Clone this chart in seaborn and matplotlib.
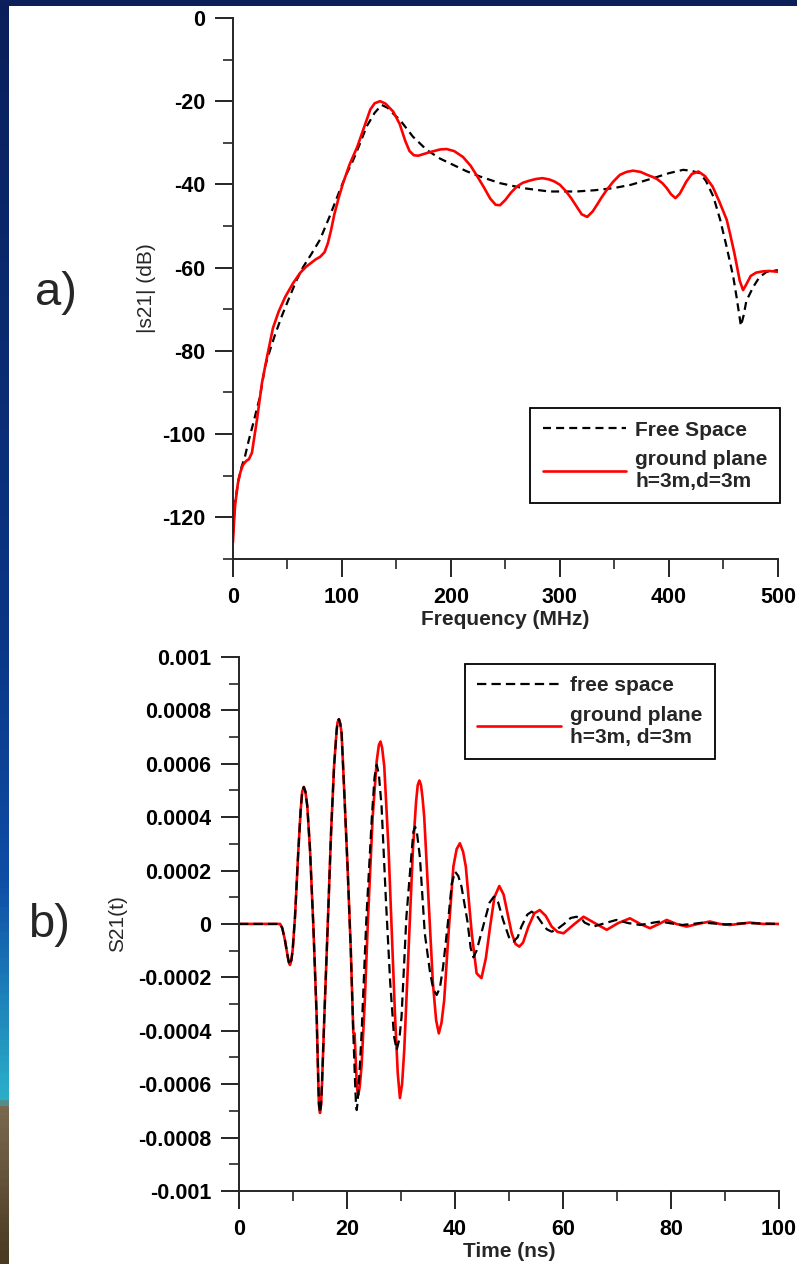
import numpy as np
import pandas as pd
import matplotlib
matplotlib.use('Agg')
import matplotlib.pyplot as plt
from matplotlib.colors import LinearSegmentedColormap
from matplotlib.ticker import MultipleLocator, FuncFormatter
import seaborn as sns

sns.set_theme(style='ticks')
plt.rcParams['font.family'] = ['Liberation Sans', 'DejaVu Sans']
plt.rcParams['axes.unicode_minus'] = False

# a) |s21| vs frequency
freq_free = [0, 1.8, 5, 8.0, 11, 14.5, 18.6, 24.8, 29.4, 34, 38.5, 45, 52, 58, 64.5, 72, 79.8, 89, 98.2,
             104, 110.4, 116.5, 122.6, 130, 136.4, 142, 147, 153.2, 165, 177.7, 190, 202, 214, 226.6,
             245, 266.3, 290, 315.3, 332, 349, 365, 385.6, 400, 413, 420, 428.4, 434, 440.7, 447,
             452.9, 459, 462, 466, 468.5, 471, 477.4, 483, 489.6, 500]
db_free = [-124, -116.6, -111, -107.8, -105.4, -101.5, -97.4, -91, -83.8, -79.8, -76.2, -71.5, -67, -63.2,
           -59.8, -56.7, -53.3, -47.5, -41.3, -37.6, -34.1, -30.2, -26.1, -22.8, -20.9, -21.6, -23, -24.5,
           -28.5, -31.7, -33.8, -35.3, -36.8, -38.1, -39.7, -40.9, -41.7, -41.7, -41.4, -40.9, -40.1,
           -38.5, -37.3, -36.5, -36.7, -37.3, -39.2, -42.9, -48.5, -55, -62.2, -67, -74, -71.5, -68,
           -64.6, -62.3, -61, -60.6]

freq_gp = [0, 1, 2, 4.6, 7, 9.2, 12, 14.7, 17.4, 20, 22, 26.6, 31.2, 36.7, 42, 48, 55, 61.5, 67, 73,
           76, 80, 84, 87, 90, 93, 97, 101, 107, 114, 120, 126, 130, 135, 140, 147, 153, 158, 162, 166,
           170, 180, 190, 196, 203, 211, 218, 224, 230, 236, 241, 245, 250, 255, 260.5, 266, 272, 278,
           284, 290, 295, 300, 305, 310, 315, 320, 325, 330, 334, 338, 343, 349, 355, 361, 367, 374,
           380, 385, 389, 394, 398, 402, 406, 410, 416, 421, 427, 433, 440, 446, 453, 456, 460, 463,
           465, 468, 471, 475, 480, 486, 492, 500]
db_gp = [-126, -121, -117, -111.7, -109, -107.4, -106.5, -106, -104.5, -100, -96.6, -87.7, -81.5, -74.5,
         -70.5, -67, -63.8, -61.3, -59.8, -58.6, -58, -57.4, -56.3, -54.2, -51, -47.2, -43.2, -39.7, -35.2,
         -31, -26.5, -22, -20.5, -20, -20.6, -22.5, -25.5, -29.5, -32, -33, -33.1, -32.3, -31.6, -31.5,
         -32, -33.4, -35.5, -38, -40.6, -43.4, -44.9, -45, -43.7, -42, -40.5, -39.6, -39.1, -38.7, -38.5,
         -38.8, -39.3, -40.1, -41.5, -43.2, -45.2, -47.2, -47.8, -46.5, -44.9, -43.2, -41.3, -39.3,
         -37.7, -37, -36.7, -37, -37.7, -38.2, -38.7, -39.7, -40.9, -42.4, -43.3, -42.2, -39.3, -37.5,
         -36.9, -38, -40.5, -44, -48.5, -51.8, -56.5, -60.5, -63.2, -65.4, -64, -62, -61.2, -60.9,
         -60.8, -61]

# b) S21(t), units of 1e-4
t_onset = [0, 5, 7.6, 8.0, 8.5, 9.0, 9.2, 9.44, 9.7, 9.94, 10.37, 10.99, 11.42, 11.7, 12.0, 12.3, 12.65,
           13.15, 13.77, 14.38, 14.69, 14.8, 15.0, 15.2, 15.37, 15.8, 16.42, 17.04, 17.6, 18.09, 18.25,
           18.5, 18.75, 19.0, 19.5, 20.1, 20.7, 21.17]
v_onset = [0, 0, 0, -0.15, -0.6, -1.2, -1.42, -1.54, -1.35, -0.97, 0.27, 2.77, 4.27, 4.95, 5.13, 4.95, 4.4,
           2.77, -0.1, -3.47, -5.97, -6.75, -7.08, -6.75, -5.97, -3.47, -0.1, 3.4, 5.9, 7.27, 7.55,
           7.67, 7.5, 7.14, 4.9, 2.15, -0.97, -4.1]

t_free_tail = [21.5, 21.65, 21.8, 21.95, 22.2, 22.7, 23.6, 24.6, 25.1, 25.5, 25.9, 26.4, 27.2, 28.0, 28.7,
               29.2, 29.7, 30.1, 31.0, 32.0, 32.3, 32.6, 32.9, 33.5, 34.4, 35.4, 36.0, 36.6, 37.2, 37.8,
               38.8, 39.4, 40.0, 40.6, 41.2, 42.3, 42.9, 43.4, 44.0, 45.2, 46.4, 47.2, 48.0, 48.9, 50.0,
               50.8, 51.6, 52.3, 53.4, 54.2, 55.0, 56.1, 57.0, 57.9, 58.9, 60.2, 61.4, 62.5, 63.6, 64.0,
               65.6, 67.8, 69.9, 72.1, 74.3, 76.2, 78.0, 80, 82.0, 84, 86.0, 90.0, 94.0, 100]
v_free_tail = [-5.97, -6.7, -6.97, -6.7, -5.97, -4.1, 0.27, 4.0, 5.5, 5.96, 5.6, 4.4, 0.9, -2.2, -4.2,
               -4.72, -4.3, -3.47, 0.27, 2.77, 3.45, 3.64, 3.5, 2.5, -0.35, -1.85, -2.45, -2.66, -2.4, -1.6,
               0.27, 1.5, 1.96, 1.8, 1.4, 0.1, -0.9, -1.25, -1.0, -0.1, 0.8, 1.02, 0.8, 0.15, -0.5,
               -0.66, -0.5, -0.1, 0.35, 0.46, 0.35, 0.03, -0.2, -0.29, -0.2, 0.0, 0.22, 0.27, 0.15, 0.05,
               -0.1, 0.03, 0.15, 0.03, -0.04, 0.03, 0.09, 0.02, -0.04, 0.0, 0.05, -0.02, 0.03, 0]

t_gp_tail = [21.4, 21.8, 21.95, 22.1, 22.35, 22.7, 23.3, 23.9, 24.75, 25.5, 25.9, 26.2, 26.5, 26.9, 27.7,
             28.3, 28.9, 29.4, 29.8, 30.2, 30.6, 31.4, 32.2, 32.8, 33.1, 33.4, 33.7, 34.0, 34.3, 35.1,
             35.9, 36.5, 37.0, 37.5, 38.0, 38.8, 39.7, 40.3, 40.9, 41.5, 42.0, 43.1, 44.0, 44.9, 45.7,
             46.5, 47.3, 48.2, 49.0, 49.6, 50.5, 51.2, 51.9, 52.6, 53.6, 54.7, 55.7, 56.8, 57.9, 59.0,
             60.1, 61.9, 63.8, 65.9, 68.1, 70.2, 72.4, 74.3, 76.1, 77.8, 79.2, 81.0, 82.9, 85.0, 87.2,
             89.0, 90.9, 94.6, 97.0, 100]
v_gp_tail = [-4.1, -5.97, -6.3, -6.4, -6.1, -5.3, -2.85, 0.27, 4.0, 6.1, 6.7, 6.83, 6.6, 5.9, 2.77, -0.35,
             -3.47, -5.6, -6.52, -6.0, -4.72, -0.97, 2.77, 4.6, 5.2, 5.37, 5.2, 4.7, 4.0, 0.9, -2.2, -3.6,
             -4.1, -3.7, -2.85, -0.35, 2.15, 2.8, 3.02, 2.7, 2.15, -0.35, -1.85, -2.03, -1.3, -0.1, 1.0,
             1.42, 1.1, 0.52, -0.35, -0.75, -0.85, -0.7, -0.1, 0.4, 0.52, 0.3, -0.1, -0.3, -0.35, -0.04,
             0.27, 0.03, -0.22, 0.03, 0.21, 0.0, -0.16, 0.0, 0.15, 0.0, -0.1, 0.0, 0.09, 0.0, -0.04,
             0.05, 0, 0]

df_a_free = pd.DataFrame({'f': freq_free, 'db': db_free})
df_a_gp = pd.DataFrame({'f': freq_gp, 'db': db_gp})
df_b_free = pd.DataFrame({'t': t_onset + t_free_tail, 'v': np.array(v_onset + v_free_tail) * 1e-4})
df_b_gp = pd.DataFrame({'t': t_onset + t_gp_tail, 'v': np.array(v_onset + v_gp_tail) * 1e-4})

fig = plt.figure(figsize=(7.97, 12.64), dpi=100)

# slide background strips
bg = fig.add_axes([0, 0, 9 / 797, 1])
cmap = LinearSegmentedColormap.from_list('slide', [
    (0.0, '#0b1f5a'), (0.5, '#0a3585'), (0.7, '#0f4ea6'), (0.80, '#1f86bc'),
    (0.872, '#2bb0c9'), (0.877, '#7b6a4f'), (1.0, '#4a3a22')])
bg.imshow(np.linspace(0, 1, 400).reshape(-1, 1), aspect='auto', cmap=cmap, extent=[0, 1, 0, 1])
bg.axis('off')
top = fig.add_axes([0, 1 - 6 / 1264, 1, 6 / 1264])
top.set_facecolor('#0b1f5a')
top.set_xticks([])
top.set_yticks([])
for s in top.spines.values():
    s.set_visible(False)

leg_kw = dict(borderaxespad=0, handlelength=4.0, handletextpad=0.45, labelspacing=0.5,
              prop=dict(size=15, weight='bold'), fancybox=False, framealpha=1,
              edgecolor='black', borderpad=0.6)

# ---- a) ----
ax1 = fig.add_axes([0.2923, 0.5578, 0.6838, 0.428])
sns.lineplot(data=df_a_free, x='f', y='db', ax=ax1, color='black', lw=1.6,
             estimator=None, label='Free Space')
ax1.lines[-1].set_dashes((3.6, 2.3))
sns.lineplot(data=df_a_gp, x='f', y='db', ax=ax1, color='red', lw=1.9,
             estimator=None, label='ground plane\nh=3m,d=3m')
ax1.set_xlim(0, 500)
ax1.set_ylim(-130, 0)
ax1.xaxis.set_major_locator(MultipleLocator(100))
ax1.xaxis.set_minor_locator(MultipleLocator(50))
ax1.yaxis.set_major_locator(MultipleLocator(20))
ax1.yaxis.set_minor_locator(MultipleLocator(10))
ax1.set_xlabel('Frequency (MHz)', fontsize=15, fontweight='bold', labelpad=2)
ax1.set_ylabel('|s21| (dB)', fontsize=15, labelpad=4)
leg1 = ax1.legend(loc='upper right', bbox_to_anchor=(1.004, 0.279), **leg_kw)
leg1.get_frame().set_linewidth(1.3)

# ---- b) ----
ax2 = fig.add_axes([0.2999, 0.0578, 0.6775, 0.4225])
sns.lineplot(data=df_b_gp, x='t', y='v', ax=ax2, color='red', lw=1.9,
             estimator=None, label='ground plane\nh=3m, d=3m')
sns.lineplot(data=df_b_free, x='t', y='v', ax=ax2, color='black', lw=1.6,
             estimator=None, label='free space')
ax2.lines[-1].set_dashes((4.2, 2.3))
ax2.set_xlim(0, 100)
ax2.set_ylim(-0.001, 0.001)
ax2.xaxis.set_major_locator(MultipleLocator(20))
ax2.xaxis.set_minor_locator(MultipleLocator(10))
ax2.yaxis.set_major_locator(MultipleLocator(0.0002))
ax2.yaxis.set_minor_locator(MultipleLocator(0.0001))
ax2.yaxis.set_major_formatter(FuncFormatter(lambda v, p: '0' if abs(v) < 1e-9 else f'{v:g}'))
ax2.set_xlabel('Time (ns)', fontsize=15, fontweight='bold', labelpad=2)
ax2.set_ylabel('S21(t)', fontsize=15, labelpad=8)
h, l = ax2.get_legend_handles_labels()
leg2 = ax2.legend(h[::-1], l[::-1], loc='upper left', bbox_to_anchor=(0.4185, 0.987), **leg_kw)
leg2.get_frame().set_linewidth(1.3)

for ax in (ax1, ax2):
    sns.despine(ax=ax)
    ax.spines['left'].set_linewidth(1.4)
    ax.spines['bottom'].set_linewidth(1.4)
    ax.tick_params(which='major', direction='out', length=13, width=1.2, pad=7, colors='black')
    ax.tick_params(which='minor', direction='out', length=7, width=1.2)
    for lab in ax.get_xticklabels() + ax.get_yticklabels():
        lab.set_fontsize(15.5)
        lab.set_fontweight('bold')

fig.text(35 / 797, 1 - 305 / 1264, 'a)', fontsize=34, ha='left', va='baseline')
fig.text(28 / 797, 1 - 937 / 1264, 'b)', fontsize=34, ha='left', va='baseline')

fig.savefig('out.png', dpi=100)
